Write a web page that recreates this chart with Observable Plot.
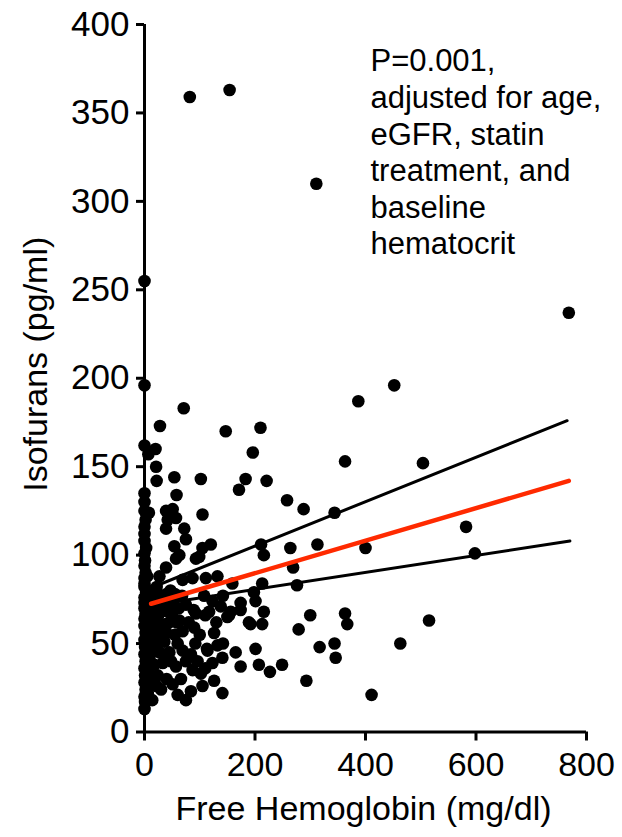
<!DOCTYPE html>
<html>
<head>
<meta charset="utf-8">
<script src="https://cdn.jsdelivr.net/npm/d3@7"></script>
<script src="https://cdn.jsdelivr.net/npm/@observablehq/plot@0.6"></script>
<style>
  html, body { margin: 0; padding: 0; background: #fff; }
  svg { display: block; }
</style>
</head>
<body>
<div id="chart"></div>
<script>
// Free hemoglobin (mg/dl) per patient
const hemoglobin = [
  82,154,311,0,768,0,71,28,147,210,
  0,20,7,196,21,22,54,102,183,221,
  171,0,58,258,288,344,363,504,387,452,
  0,8,39,51,105,42,57,0,39,72,
  0,54,75,120,105,0,63,57,99,93,
  0,39,27,0,69,87,111,132,0,30,
  0,51,75,108,123,0,211,216,264,269,
  159,213,276,142,198,174,201,138,156,216,
  313,400,582,598,300,279,363,367,317,344,
  346,463,515,293,411,24,39,63,93,117,
  90,69,126,14,36,27,45,69,84,114,
  132,11,33,57,75,123,24,87,102,126,
  30,51,60,75,84,105,141,0,153,174,
  192,213,142,165,201,141,174,207,227,249,
  150,113,189,89,44,0,2,0,3,1,
  2,0,3,0,2,0,0,2,0,1,
  0,2,0,1,0,2,0,1,10,12,
  18,8,15,20,25,30,35,40,22,47,
  55,16,28,45,55,60,18,48,30,62,
  80,100,96,12,40,66,110,92,130,110,
  68,6,8,6,9,7,10,6,14,6,
  20,24,18,22,14,8,5,26,35,40,
  50,58
];
// Isofurans (pg/ml) per patient
const isofurans = [
  359,363,310,255,237,196,183,173,170,172,
  162,160,157,158,150,142,144,143,143,142,
  137,135,134,131,126,124,153,152,187,196,
  125,124,125,126,123,120,121,116,115,115,
  108,105,109,106,104,101,100,98,99,98,
  94,93,88,87,86,87,87,88,82,77,
  76,73,72,77,74,70,106,100,104,93,
  84,84,83,77,79,73,74,71,68,68,
  106,104,116,101,66,58,67,61,48,50,
  42,50,63,29,21,65,61,63,67,68,
  59,57,56,50,51,45,45,46,44,46,
  49,39,39,37,40,39,32,35,33,29,
  24,27,21,18,23,26,22,13,66,69,
  61,61,50,45,47,42,37,38,34,38,
  65,47,62,69,68,130,120,112,104,97,
  90,84,79,73,67,64,60,56,52,48,
  44,40,36,32,28,24,20,17,72,66,
  70,62,58,55,75,68,72,78,82,80,
  78,78,60,62,55,50,46,40,52,70,
  62,55,40,30,30,30,36,50,62,66,
  77,22,28,34,42,47,53,58,64,68,
  62,50,38,26,18,80,88,56,44,56,
  66,62
];

// Regression line and confidence limits (end points)
const fitX = [12, 768];
const fitY = [72.5, 142];
const upperX = [0, 765];
const upperY = [80, 176];
const lowerX = [0, 770];
const lowerY = [71, 108];

const xTicks = [0, 200, 400, 600, 800];
const yTicks = [0, 50, 100, 150, 200, 250, 300, 350, 400];
const xLabel = "Free Hemoglobin (mg/dl)";
const yLabel = "Isofurans (pg/ml)";
const note = "P=0.001,\nadjusted for age,\neGFR, statin\ntreatment, and\nbaseline\nhematocrit";

const points = hemoglobin.map((x, i) => ({x, y: isofurans[i]}));
const toLine = (xs, ys) => xs.map((x, i) => ({x, y: ys[i]}));

const font = "'Liberation Sans', Arial, Helvetica, sans-serif";

const chart = Plot.plot({
  width: 622,
  height: 837,
  marginLeft: 144,
  marginRight: 36,
  marginTop: 24,
  marginBottom: 105.5,
  style: {fontFamily: font, background: "white", color: "black", overflow: "visible"},
  x: {domain: [0, 800]},
  y: {domain: [0, 400]},
  marks: [
    Plot.axisY({ticks: yTicks, tickSize: 8, tickPadding: 7, fontSize: 35, label: null, strokeWidth: 3}),
    Plot.axisX({ticks: xTicks, tickSize: 9, tickPadding: 11, fontSize: 34, label: null, strokeWidth: 3}),
    Plot.ruleX([0], {y1: 0, y2: 400, stroke: "black", strokeWidth: 3}),
    Plot.ruleY([0], {x1: 0, x2: 800, stroke: "black", strokeWidth: 3}),
    Plot.dot(points, {x: "x", y: "y", r: 6.3, fill: "black", stroke: "none"}),
    Plot.line(toLine(upperX, upperY), {x: "x", y: "y", stroke: "black", strokeWidth: 3}),
    Plot.line(toLine(lowerX, lowerY), {x: "x", y: "y", stroke: "black", strokeWidth: 3}),
    Plot.line(toLine(fitX, fitY), {x: "x", y: "y", stroke: "#ff2a00", strokeWidth: 4.5}),
    Plot.text([note], {text: d => d, frameAnchor: "top-left", dx: 226, dy: 21, textAnchor: "start", lineAnchor: "top", fontSize: 31, lineHeight: 1.18, fill: "black"}),
    Plot.text([xLabel], {text: d => d, frameAnchor: "bottom", dx: -2, dy: 77.5, textAnchor: "middle", lineAnchor: "middle", fontSize: 34, fill: "black"}),
    Plot.text([yLabel], {text: d => d, frameAnchor: "left", dx: -108, dy: -14, rotate: -90, textAnchor: "middle", lineAnchor: "middle", fontSize: 34, fill: "black"})
  ]
});
document.getElementById("chart").append(chart);
</script>
</body>
</html>
